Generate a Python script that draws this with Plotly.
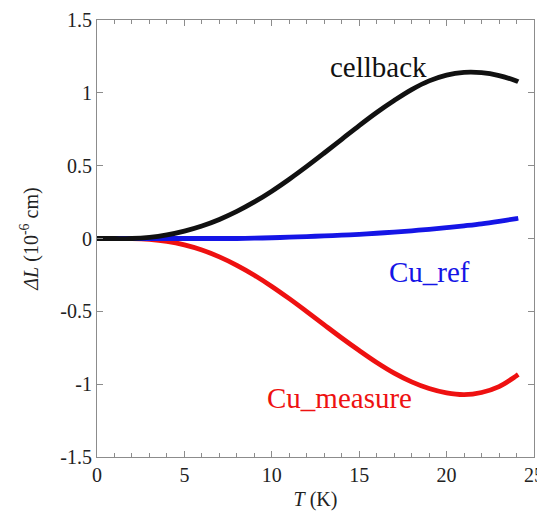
import plotly.graph_objects as go

T = [0, 1, 2, 3, 4, 5, 6, 7, 8, 9, 10, 11, 12, 13, 14, 15, 16, 17, 18, 19, 20, 21, 22, 23, 24, 24.1]
cellback = [0, 0, 0, 0.008, 0.025, 0.051, 0.086, 0.131, 0.186, 0.251, 0.325, 0.407, 0.495, 0.587,
            0.681, 0.775, 0.865, 0.947, 1.022, 1.082, 1.122, 1.14, 1.138, 1.118, 1.082, 1.077]
cu_measure = [0, 0, 0, -0.006, -0.02, -0.044, -0.079, -0.126, -0.184, -0.252, -0.329, -0.413, -0.502,
              -0.593, -0.683, -0.769, -0.851, -0.924, -0.984, -1.03, -1.06, -1.072, -1.057, -1.017,
              -0.942, -0.934]
cu_ref = [0, 0, 0, 0, 0, 0, 0, 0, 0, 0.002, 0.005, 0.009, 0.013, 0.018, 0.023, 0.029, 0.036, 0.044,
          0.053, 0.063, 0.074, 0.087, 0.101, 0.118, 0.137, 0.139]

ytickvals = [-1.5, -1, -0.5, 0, 0.5, 1, 1.5]
yticktext = ["-1.5", "-1", "-0.5", "0", "0.5", "1", "1.5"]
xtickvals = [0, 5, 10, 15, 20, 25]

FONT = "Liberation Serif"
TXT = "#222222"

fig = go.Figure()
for name, y, col in [("Cu_measure", cu_measure, "#ee1111"),
                     ("Cu_ref", cu_ref, "#1515e6"),
                     ("cellback", cellback, "#111111")]:
    fig.add_trace(go.Scatter(x=T, y=y, mode="lines", name=name,
                             line=dict(color=col, width=4.8, shape="spline", smoothing=1.0)))

fig.add_annotation(x=16.1, y=1.18, text="cellback", showarrow=False,
                   font=dict(family=FONT, size=29, color="#111111"))
fig.add_annotation(x=19.0, y=-0.23, text="Cu_ref", showarrow=False,
                   font=dict(family=FONT, size=29, color="#1515e6"))
fig.add_annotation(x=13.9, y=-1.095, text="Cu_measure", showarrow=False,
                   font=dict(family=FONT, size=29, color="#ee1111"))

axis_common = dict(showline=True, linecolor="#8c8c8c", linewidth=1, mirror="allticks",
                   ticks="inside", tickcolor="#8c8c8c", ticklen=6, zeroline=False,
                   showgrid=False, automargin=False,
                   tickfont=dict(family=FONT, size=20, color=TXT))

fig.update_xaxes(range=[0, 25], tickvals=xtickvals,
                 minor=dict(dtick=1, ticks="inside", ticklen=4, tickcolor="#8c8c8c", showgrid=False),
                 title=dict(text="<i>T</i> (K)", font=dict(family=FONT, size=20, color=TXT),
                            standoff=6),
                 **axis_common)
fig.update_yaxes(range=[-1.5, 1.5], tickvals=ytickvals, ticktext=yticktext,
                 title=dict(text="<i>ΔL</i> (10<sup>-6</sup> cm)",
                            font=dict(family=FONT, size=20, color=TXT), standoff=16),
                 **axis_common)

fig.update_layout(width=537, height=514, showlegend=False,
                  font=dict(family=FONT, color=TXT),
                  paper_bgcolor="white", plot_bgcolor="white",
                  margin=dict(l=89, r=11, t=12, b=65))

fig.write_html("out.html")
